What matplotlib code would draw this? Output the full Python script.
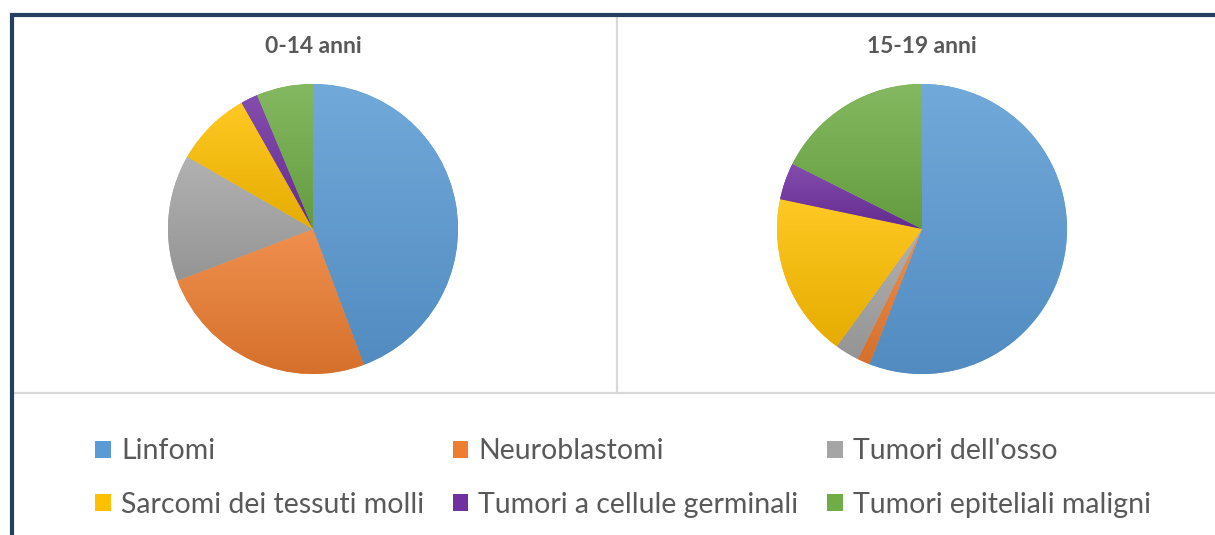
import numpy as np
import matplotlib.pyplot as plt
from matplotlib.colors import to_rgb
from matplotlib.patches import Patch
from matplotlib.lines import Line2D

# Dati (percentuali)
categorie = ['Linfomi', 'Neuroblastomi', "Tumori dell'osso",
             'Sarcomi dei tessuti molli', 'Tumori a cellule germinali',
             'Tumori epiteliali maligni']
quote_0_14 = [44.3, 24.9, 14.1, 8.5, 1.9, 6.3]
quote_15_19 = [55.9, 1.4, 2.7, 18.3, 4.1, 17.6]
titoli = ['0-14 anni', '15-19 anni']
colori = ['#5B9BD5', '#ED7D31', '#A5A5A5', '#FFC000', '#7030A0', '#70AD47']

plt.rcParams['font.family'] = ['Lato', 'DejaVu Sans']

W, H = 1215, 535
fig = plt.figure(figsize=(W / 100, H / 100), dpi=100)


def fx(x):
    return x / W


def fy(y):
    return 1 - y / H


def sfuma(ax, wedge, base):
    # gradiente verticale chiaro -> scuro, ritagliato sulla fetta
    c = np.array(to_rgb(base))
    top = c + (1 - c) * 0.14
    bot = c * 0.90
    t = np.linspace(0, 1, 64)[:, None, None]
    img = top * (1 - t) + bot * t
    bb = wedge.get_path().get_extents()
    im = ax.imshow(img, extent=[bb.x0, bb.x1, bb.y0, bb.y1], aspect='auto',
                   origin='upper', zorder=wedge.get_zorder(), interpolation='bilinear')
    im.set_clip_path(wedge)


centri = [(313, 229), (922, 229)]
r = 145
for (cx, cy), valori, titolo in zip(centri, [quote_0_14, quote_15_19], titoli):
    ax = fig.add_axes([fx(cx - r), fy(cy + r), 2 * r / W, 2 * r / H])
    wedges, _ = ax.pie(valori, colors=colori, startangle=90, counterclock=False,
                       wedgeprops=dict(linewidth=0))
    for w, col in zip(wedges, colori):
        sfuma(ax, w, col)
    ax.set_xlim(-1.0, 1.0)
    ax.set_ylim(-1.0, 1.0)
    ax.axis('off')
    fig.text(fx(cx), fy(47), titolo, ha='center', va='center', fontsize=16.5,
             fontweight='bold', color='#595959')

# bordi e separatori
grigio = '#D9D9D9'
fig.add_artist(Line2D([fx(617), fx(617)], [fy(17), fy(393)], color=grigio, lw=1.6,
                      transform=fig.transFigure))
fig.add_artist(Line2D([fx(14), fx(W)], [fy(393), fy(393)], color=grigio, lw=1.6,
                      transform=fig.transFigure))
navy = '#243F60'
fig.add_artist(Line2D([fx(10), fx(W)], [fy(15), fy(15)], color=navy, lw=3,
                      transform=fig.transFigure, solid_capstyle='butt'))
fig.add_artist(Line2D([fx(12), fx(12)], [fy(14), fy(H)], color=navy, lw=3,
                      transform=fig.transFigure, solid_capstyle='butt'))

# legenda (ordine per righe come nell'originale)
handles = [Patch(facecolor=c, edgecolor='none') for c in colori]
ordine = [0, 3, 1, 4, 2, 5]
fig.legend([handles[i] for i in ordine], [categorie[i] for i in ordine],
           loc='center', bbox_to_anchor=(fx(623), fy(478)), ncol=3, frameon=False,
           fontsize=20.5, handlelength=0.55, handleheight=0.55, handletextpad=0.35,
           columnspacing=1.0, labelspacing=0.95, labelcolor='#595959')

fig.savefig('out.png', dpi=100)
